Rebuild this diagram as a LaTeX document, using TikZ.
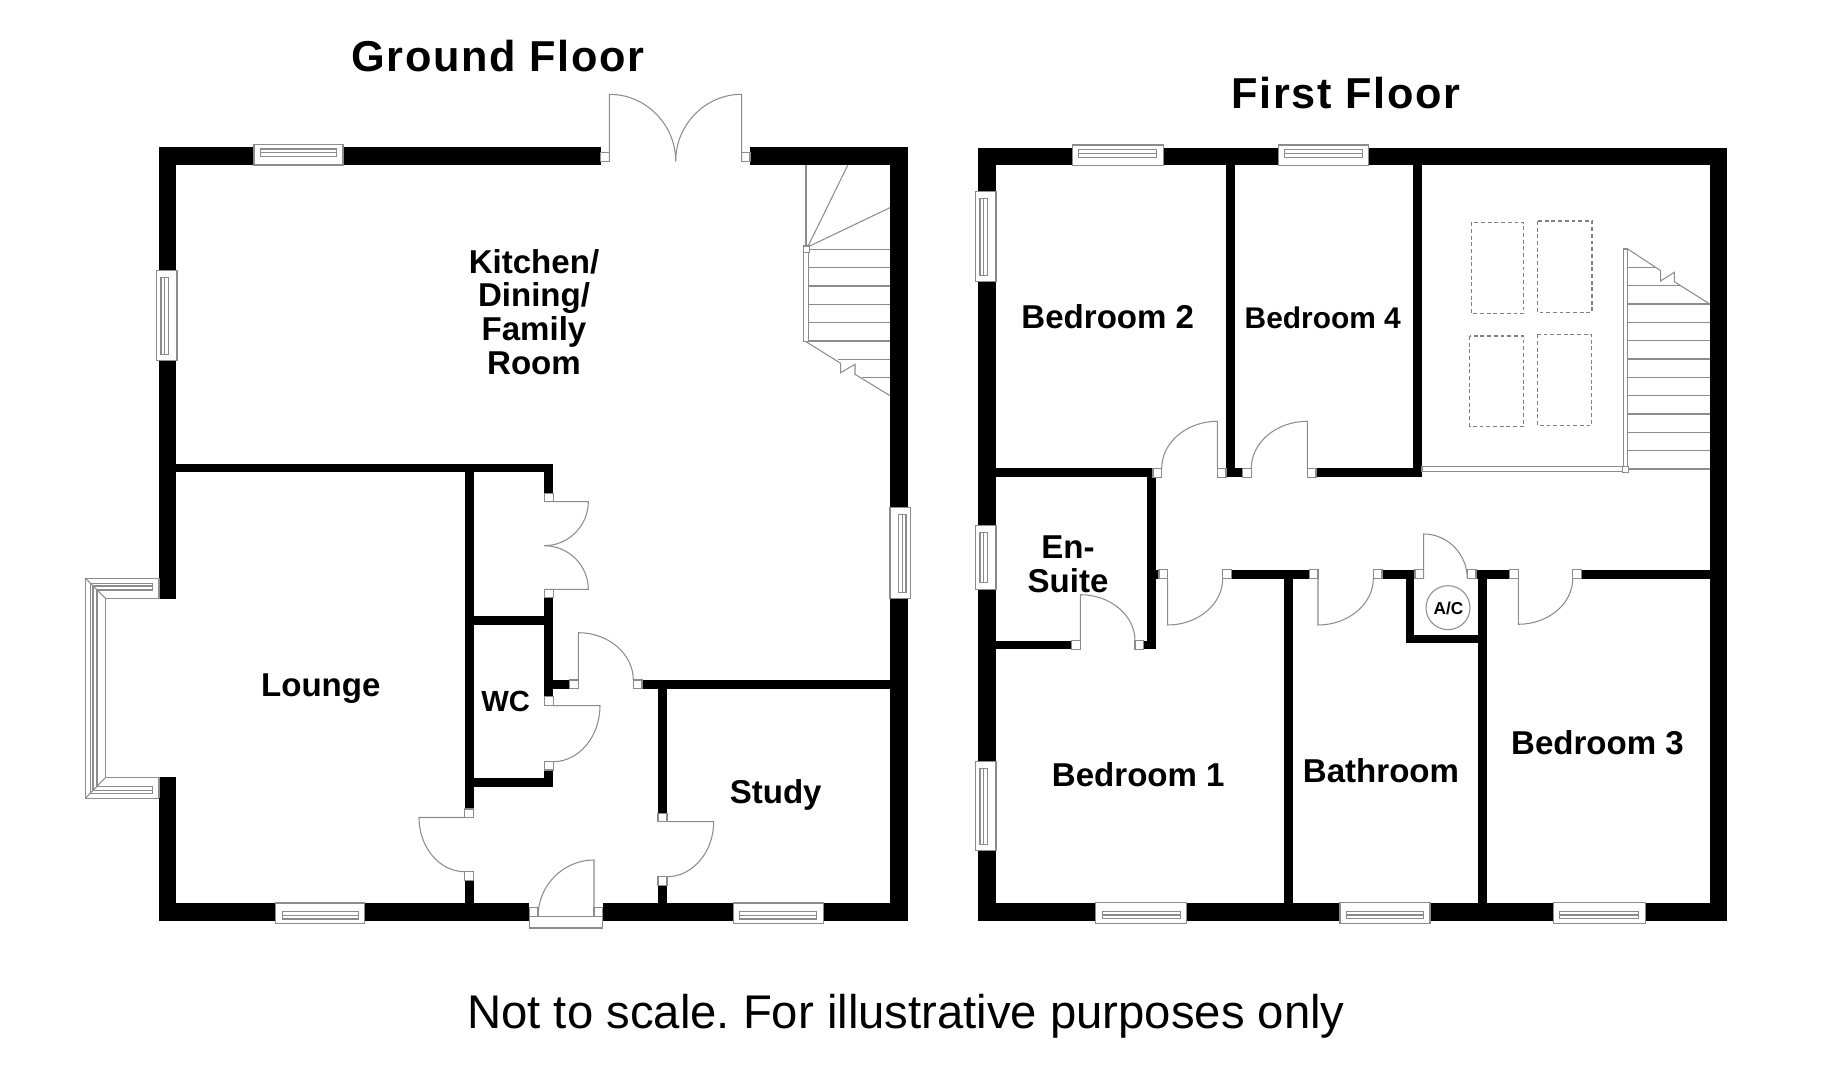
\documentclass[tikz,border=0pt]{standalone}
\usepackage{fontspec}
\setmainfont{Liberation Sans}
\newfontfamily\titlefont[LetterSpace=3.8]{Liberation Sans}
\tikzset{
  fine/.style={draw=black!45,line width=.3pt},
  jamb/.style={fine,fill=white},
  skylight/.style={draw=black!50,line width=.35pt,dash pattern=on 1.1pt off .8pt},
  room/.style={font=\bfseries\fontsize{9.4}{9.67}\selectfont,inner sep=0pt,anchor=base},
  floortitle/.style={font=\titlefont\bfseries\fontsize{12.3}{14}\selectfont,inner sep=0pt,anchor=base}
}
% door leaf up or down from the hinge, then its swing
\newcommand{\swingV}[4]{
\draw[fine] (#1,#2) -- (#1,#3) .. controls ({#1+0.55*(#4-#1)},#3) and (#4,{#2+0.55*(#3-#2)}) .. (#4,#2);
}
% door leaf sideways from the hinge, then its swing
\newcommand{\swingH}[4]{
\draw[fine] (#1,#2) -- (#3,#2) .. controls (#3,{#2+0.55*(#4-#2)}) and ({#1+0.55*(#3-#1)},#4) .. (#1,#4);
}
% window: middle of its outer edge, turn, length
\newcommand{\win}[4]{
\begin{scope}[shift={(#1,#2)},rotate=#3]
\draw[jamb] ({-#4/2},-2.7) rectangle ({#4/2},18);
\draw[fine] ({-#4/2+6.5},2) rectangle ({#4/2-6.5},9.5);
\draw[fine] ({-#4/2+6.5},5.7) -- ({#4/2-6.5},5.7);
\end{scope}
}
\begin{document}
\begin{tikzpicture}[x=0.01cm,y=-0.01cm]
\useasboundingbox (0,0) rectangle (1838,1080);
% ground floor
\foreach \xa/\ya/\xb/\yb in {159/147/601/165,750/147/908/165,890/147/908/921,159/903/529.3/921,602.7/903/908/921,
159/147/176.3/598.7,159/777.3/176.3/921,176/463.7/553.3/472.3,544.3/463.7/553.3/493.3,544.3/597.7/553.3/696.7,
473/777.7/553.3/786.7,544.3/770/553.3/786.7,464.7/472/473.7/809,464.7/880.7/473.7/903,473/616.3/544.3/625,
553/680/569.7/688.7,642/680/890/688.7,658/688/667/813.3,658/885.3/667/903}
  \fill[black] (\xa,\ya) rectangle (\xb,\yb);
\foreach \xa/\ya/\xb/\yb in {600.7/152.3/609.3/161.3,741.7/152.3/750/161.3,544.3/493.3/553.3/501.7,544.3/589.3/553.3/597.7,
544.3/696.7/553.3/705.7,544.3/761.7/553.3/770,464.7/809/473.7/817.7,464.7/871.7/473.7/880.7,569.7/680/578.3/688.7,
633.3/680/642/688.7,658/813.3/667/821.7,658/876.7/667/885.3,529.3/907.7/538/916.7,594/907.7/602.7/916.7}
  \draw[jamb] (\xa,\ya) rectangle (\xb,\yb);
\draw[fine] (529.3,916.7) rectangle (602.7,928);
\swingV{609.3}{161.3}{94.3}{675.7}
\swingV{741.7}{161.3}{94.3}{675.7}
\swingH{544.3}{501.7}{588.3}{545.7}
\swingH{544.3}{589.3}{588.3}{545.7}
\swingH{553.3}{705.7}{600}{761.7}
\swingH{464.7}{817.5}{419}{871.7}
\swingV{578.3}{680}{632.7}{633.3}
\swingH{667}{821.7}{713.7}{876.7}
\swingV{594}{916.7}{860}{538}
\win{298.5}{147}{0}{89}
\win{159}{315.7}{90}{90}
\win{320.3}{921}{180}{89}
\win{778.3}{921}{180}{90}
\win{908}{553.3}{-90}{91}
% bay window
\draw[fine] (159,578.3) -- (85.3,578.3) -- (85.3,798.3) -- (159,798.3);
\draw[fine] (159,598.7) -- (105.7,598.7) -- (105.7,777.3) -- (159,777.3);
\draw[fine] (152.3,583.3) -- (90.3,583.3) -- (90.3,793.3) -- (152.3,793.3) -- (152.3,786.6) -- (97,786.6) -- (97,590) -- (152.3,590) -- cycle;
\draw[fine] (152.3,586) -- (93,586) -- (93,790.6) -- (152.3,790.6);
\draw[fine] (85.3,578.3) -- (105.7,598.7) (85.3,798.3) -- (105.7,777.3);
\draw[fine] (159,578.3) -- (159,598.7) (159,777.3) -- (159,798.3);
% ground floor stairs
\draw[fine] (806,165.3) -- (806,246);
\draw[fine] (807.7,247) -- (847.7,165.3) (807.7,247) -- (890,207.7);
\foreach \y in {249.3,267.7,286,304.3,322.7,341}
  \draw[fine] (808.3,\y) -- (890,\y);
\draw[fine] (838,359.3) -- (890,359.3) (861.7,377.7) -- (890,377.7);
\draw[fine] (806,341.7) -- (840.7,363.3) -- (840.7,372.7) -- (855,364.3) -- (855,374.3) -- (890,395.7);
\draw[jamb] (803.7,249.3) rectangle (808.3,341.7);
\draw[jamb] (803.3,246) rectangle (809.3,252.7);
% first floor
\foreach \xa/\ya/\xb/\yb in {978/147.7/1727.3/165.3,1709.7/147.7/1727.3/920.7,978/903/1727.3/920.7,978/147.7/996/920.7,
1226/165/1235/477.3,1235/468.3/1242.7/477.3,996/468.3/1153/477.3,1316/468.3/1422/477.3,1413.3/165/1422/477.3,
1146.7/477/1155.7/649.3,1155.7/569.7/1159/578.7,1231.3/569.7/1309.3/578.7,1382/569.7/1415/578.7,1405.7/569.7/1414.3/643.3,
1405.7/634.7/1487/643.3,1476/569.7/1509.7/578.7,1581.3/569.7/1709.7/578.7,1478.3/578/1487/903,1284.3/578/1293/903,
996/640.7/1071.7/649.3,1143.7/640.7/1155.7/649.3}
  \fill[black] (\xa,\ya) rectangle (\xb,\yb);
\foreach \xa/\xb in {1153/1161.7,1217.3/1226,1242.7/1251.3,1307.3/1316}
  \draw[jamb] (\xa,468.3) rectangle (\xb,477.3);
\foreach \xa/\xb in {1159/1167.7,1222.7/1231.3,1309.3/1318,1373.3/1382,1415/1423.7,1467.3/1476,1509.7/1518.3,1572.7/1581.3}
  \draw[jamb] (\xa,569.7) rectangle (\xb,578.7);
\foreach \xa/\xb in {1071.7/1080.3,1135/1143.7}
  \draw[jamb] (\xa,640.7) rectangle (\xb,649.3);
\swingV{1217.3}{468.3}{421.3}{1161.7}
\swingV{1307.3}{468.3}{421.3}{1251.3}
\swingV{1167.7}{578.7}{625}{1222.7}
\swingV{1318}{578.7}{625}{1373.3}
\swingV{1423.7}{578.7}{534}{1467.3}
\swingV{1518.3}{578.7}{624.3}{1572.7}
\swingV{1080.3}{640.7}{594.7}{1135}
\win{1117.7}{147.7}{0}{90.7}
\win{1323.5}{147.7}{0}{90.4}
\win{978}{236.8}{90}{89.7}
\win{978}{557.5}{90}{63.6}
\win{978}{806.2}{90}{89}
\win{1141.2}{920.7}{180}{91}
\win{1385}{920.7}{180}{90}
\win{1599.3}{920.7}{180}{92}
% skylights
\draw[skylight] (1471.3,222.3) rectangle (1523.7,313.7);
\draw[skylight] (1537.3,221) rectangle (1592,312.3);
\draw[skylight] (1469.7,336) rectangle (1523.7,426.3);
\draw[skylight] (1537.3,334.3) rectangle (1591.7,425.3);
% first floor stairs
\foreach \y in {304,322.3,340.7,359,377.3,395.7,414,432.3,450.7,469}
  \draw[fine] (1627.7,\y) -- (1709.7,\y);
\draw[fine] (1627.7,267.3) -- (1656,267.3) (1627.7,285.7) -- (1680,285.7);
\draw[fine] (1627.7,249) -- (1660.7,270.7) -- (1660.7,281) -- (1674.3,272.3) -- (1674.3,281.7) -- (1709.7,304);
\draw[jamb] (1422,466.7) rectangle (1622.3,471.7);
\draw[jamb] (1623.3,249) rectangle (1627.7,466.7);
\draw[jamb] (1622.3,466.7) rectangle (1628.7,472.7);
\node[circle,fine,minimum size=44*0.01cm,inner sep=0pt] (cupboard) at (1448,607.7) {};
% labels
\node[floortitle] (groundtitle) at (498,71.5) {Ground Floor};
\node[floortitle] (firsttitle) at (1346,109) {First Floor};
\node[font=\bfseries\fontsize{9.4}{9.6}\selectfont,align=center,inner sep=0pt] (kitchen) at (534,312) {Kitchen/\\Dining/\\Family\\Room};
\node[room] (lounge) at (320.8,696.7) {Lounge};
\node[room,font=\bfseries\fontsize{8.3}{9}\selectfont] (wc) at (505.7,711.7) {WC};
\node[room] (study) at (775.7,803.3) {Study};
\node[room] (bedtwo) at (1107.8,328.3) {Bedroom 2};
\node[room,font=\bfseries\fontsize{8.5}{9}\selectfont] (bedfour) at (1322.8,328.3) {Bedroom 4};
\node[font=\bfseries\fontsize{9.4}{9.5}\selectfont,align=center,inner sep=0pt] (ensuite) at (1068,564.5) {En-\\Suite};
\node[room] (bedone) at (1138.3,787) {Bedroom 1};
\node[room] (bathroom) at (1381,783) {Bathroom};
\node[room] (bedthree) at (1597.5,755) {Bedroom 3};
\node[room,font=\bfseries\fontsize{4.9}{6}\selectfont] (ac) at (1448.5,615) {A/C};
\node[font=\frenchspacing\fontsize{13.44}{15}\selectfont,inner sep=0pt,anchor=base] (note) at (906,1029) {Not to scale. For illustrative purposes only};
\end{tikzpicture}
\end{document}
